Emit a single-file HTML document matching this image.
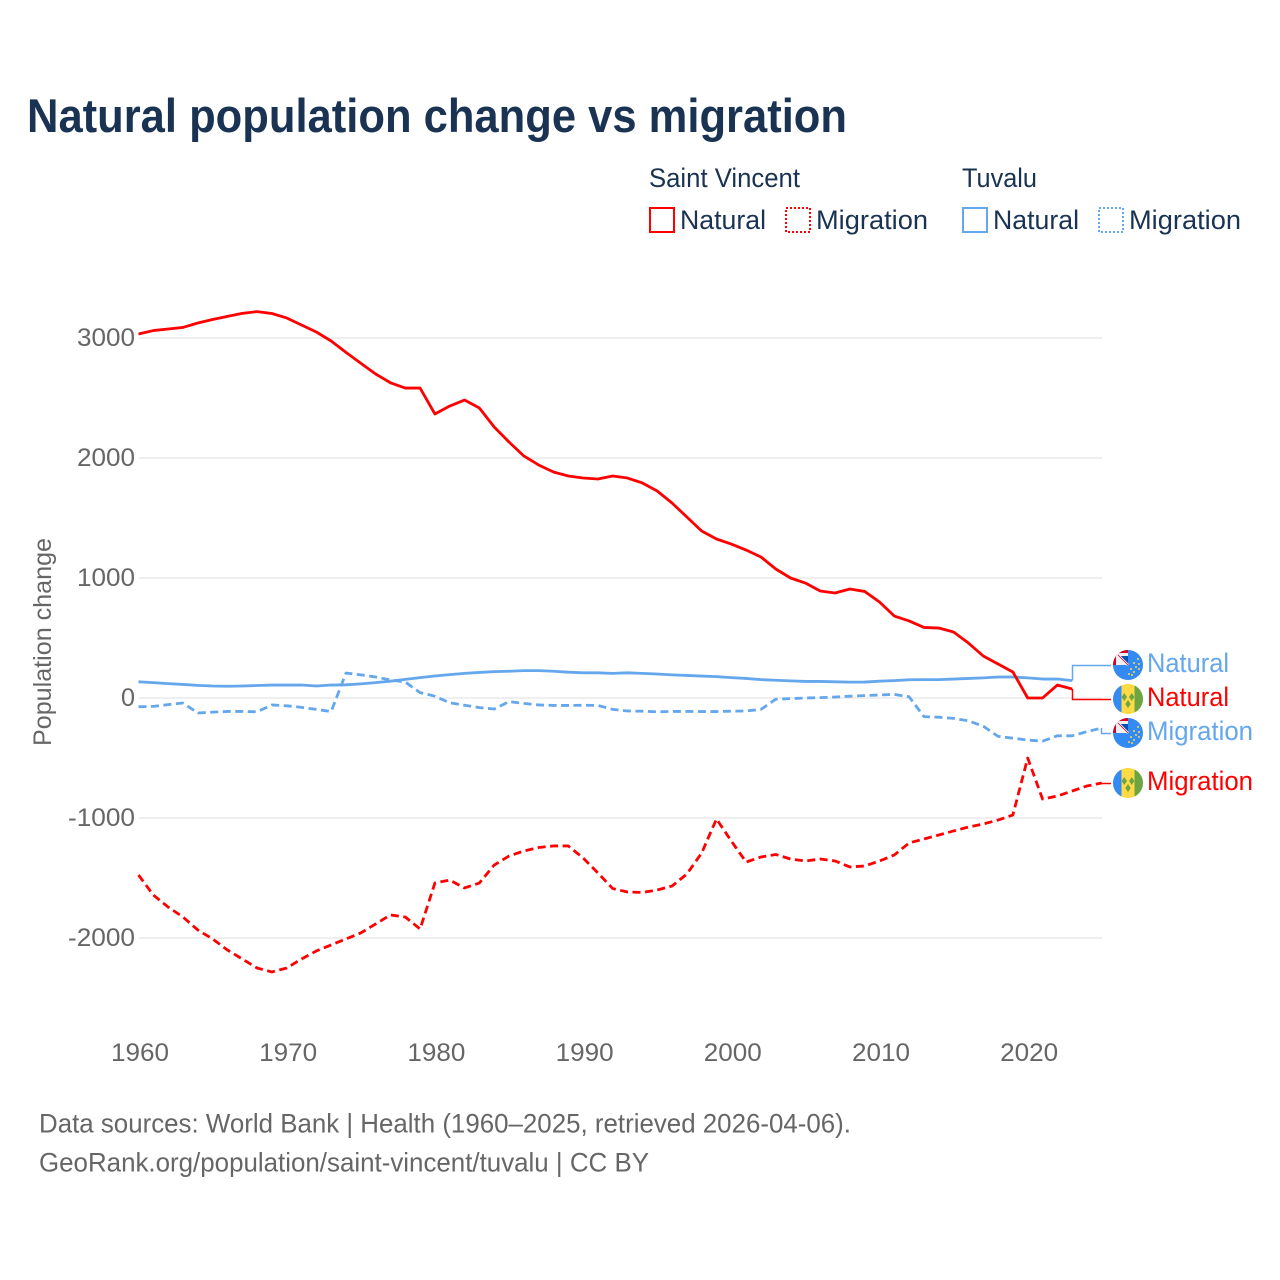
<!DOCTYPE html>
<html lang="en">
<head>
<meta charset="utf-8">
<title>Natural population change vs migration</title>
<style>
html,body{margin:0;padding:0;background:#fff;}
svg{display:block;font-family:"Liberation Sans",sans-serif;}
</style>
</head>
<body>
<svg id="chart" xmlns="http://www.w3.org/2000/svg" width="1280" height="1280" viewBox="0 0 1280 1280">
  <defs>
    <clipPath id="flag-clip"><circle cx="15" cy="15" r="15"/></clipPath>
    <symbol id="flag-tv" viewBox="0 0 30 30">
      <g clip-path="url(#flag-clip)">
        <rect width="30" height="30" fill="#338af3"/>
        <rect width="15" height="15" fill="#d80027"/>
        <path d="M3 3H15V15H3Z" fill="#f0f0f0"/>
        <path d="M7 6H15V15Z" fill="#0052b4"/>
        <path d="M5 5L15 15" stroke="#f0f0f0" stroke-width="2.500"/>
        <path d="M5 5L15 15" stroke="#d80027" stroke-width="0.800"/>
        <path d="M5 9L11 15H5Z" fill="#f0f0f0"/>
        <g fill="#ffda44">
          <circle cx="25" cy="9" r="1"/><circle cx="21" cy="13" r="1"/><circle cx="26" cy="14" r="1"/>
          <circle cx="23" cy="17" r="1"/><circle cx="18" cy="19" r="1"/><circle cx="26" cy="19" r="1"/>
          <circle cx="21" cy="22" r="1"/><circle cx="16" cy="24" r="1"/><circle cx="19" cy="25" r="1"/>
        </g>
      </g>
    </symbol>
    <symbol id="flag-vc" viewBox="0 0 30 30">
      <g clip-path="url(#flag-clip)">
        <rect width="30" height="30" fill="#ffda44"/>
        <rect width="8.500" height="30" fill="#338af3"/>
        <rect x="21.500" width="8.500" height="30" fill="#6da544"/>
        <g fill="#6da544">
          <path d="M11.300 9L14 13L11.300 17L8.600 13Z"/>
          <path d="M18.700 9L21.400 13L18.700 17L16 13Z"/>
          <path d="M15 16L17.700 20L15 24L12.300 20Z"/>
        </g>
      </g>
    </symbol>
  </defs>

  <text x="27" y="132" font-size="47" font-weight="700" fill="#1a3353" textLength="820" lengthAdjust="spacingAndGlyphs">Natural population change vs migration</text>

  <g font-size="27" fill="#1a3353">
    <text x="649" y="187" textLength="151" lengthAdjust="spacingAndGlyphs">Saint Vincent</text>
    <text x="962" y="187" textLength="75" lengthAdjust="spacingAndGlyphs">Tuvalu</text>
    <g>
      <rect x="650" y="208" width="24" height="24" fill="none" stroke="#ff0000" stroke-width="2"/>
      <text x="680" y="229" textLength="86" lengthAdjust="spacingAndGlyphs">Natural</text>
    </g>
    <g>
      <rect x="786" y="208" width="24" height="24" fill="none" stroke="#ff0000" stroke-width="2" stroke-dasharray="2 2"/>
      <text x="816" y="229" textLength="112" lengthAdjust="spacingAndGlyphs">Migration</text>
    </g>
    <g>
      <rect x="963" y="208" width="24" height="24" fill="none" stroke="#64a7ec" stroke-width="2"/>
      <text x="993" y="229" textLength="86" lengthAdjust="spacingAndGlyphs">Natural</text>
    </g>
    <g>
      <rect x="1099" y="208" width="24" height="24" fill="none" stroke="#64a7ec" stroke-width="2" stroke-dasharray="2 2"/>
      <text x="1129" y="229" textLength="112" lengthAdjust="spacingAndGlyphs">Migration</text>
    </g>
  </g>

  <g id="grid"></g>
  <g id="y-ticks"></g>
  <g id="x-ticks"></g>
  <text transform="translate(51 642) rotate(-90)" text-anchor="middle" font-size="25" fill="#666666" textLength="208" lengthAdjust="spacingAndGlyphs">Population change</text>
  <g id="series"></g>

  <g id="end-labels"></g>

  <g font-size="27" fill="#666666">
    <text x="39" y="1132.500" textLength="812" lengthAdjust="spacingAndGlyphs">Data sources: World Bank | Health (1960–2025, retrieved 2026-04-06).</text>
    <text x="39" y="1171.500" textLength="610" lengthAdjust="spacingAndGlyphs">GeoRank.org/population/saint-vincent/tuvalu | CC BY</text>
  </g>
</svg>

<script>
var yTickValues = [3000, 2000, 1000, 0, -1000, -2000];
var xTickYears = [1960, 1970, 1980, 1990, 2000, 2010, 2020];
var firstYear = 1960;

var svNatural = [3033,3062,3075,3088,3125,3154,3180,3205,3220,3204,3167,3108,3050,2975,2880,2790,2700,2627,2583,2583,2367,2433,2483,2417,2258,2133,2017,1942,1883,1850,1833,1825,1850,1833,1792,1725,1625,1508,1392,1325,1283,1233,1175,1075,1000,958,892,875,908,888,800,683,642,588,583,550,458,350,283,217,0,0,108,75];
var tvNatural = [135,128,120,113,105,100,98,100,104,108,108,108,100,108,110,118,128,140,155,170,183,195,205,213,220,223,228,228,223,215,210,210,205,210,205,200,193,188,183,178,170,163,153,148,143,138,138,135,132,133,140,145,152,153,153,158,163,168,175,175,168,158,158,145];
var tvMigration = [-73,-70,-55,-42,-125,-118,-112,-112,-115,-58,-65,-78,-95,-113,208,193,175,150,133,45,15,-40,-60,-80,-92,-30,-45,-58,-62,-62,-60,-62,-95,-108,-110,-115,-112,-112,-113,-113,-110,-108,-95,-10,-5,0,3,8,15,20,25,30,10,-155,-160,-170,-190,-235,-320,-335,-350,-360,-315,-315,-280,-250];
var svMigration = [-1475,-1642,-1742,-1825,-1933,-2008,-2100,-2175,-2250,-2283,-2250,-2175,-2108,-2058,-2008,-1958,-1883,-1808,-1825,-1925,-1542,-1517,-1583,-1542,-1392,-1317,-1275,-1246,-1233,-1233,-1333,-1458,-1588,-1617,-1620,-1600,-1567,-1467,-1292,-1008,-1192,-1367,-1325,-1304,-1342,-1358,-1342,-1358,-1408,-1400,-1358,-1308,-1208,-1175,-1142,-1108,-1075,-1050,-1017,-975,-500,-842,-817,-775,-733,-708];

var NS = 'http://www.w3.org/2000/svg';
var RED = '#ff0000';
var BLUE = '#64a7ec';
function xScale(year) { return 138.5 + (year - 1960) * 14.82; }
function yScale(value) { return 698 - value * 0.12; }
function make(tag, attrs, parent) {
  var el = document.createElementNS(NS, tag);
  for (var k in attrs) el.setAttribute(k, attrs[k]);
  parent.appendChild(el);
  return el;
}

var gridGroup = document.getElementById('grid');
var yGroup = document.getElementById('y-ticks');
yTickValues.forEach(function (v) {
  var line = make('line', {x1: 139, x2: 1102, y1: yScale(v), y2: yScale(v), stroke: '#eaeaea', 'stroke-width': 1.5}, gridGroup);
  
  
  var label = String(v);
  var t = make('text', {x: 135, y: yScale(v) + 8, 'text-anchor': 'end', 'font-size': 25, fill: '#666666', textLength: label === '0' ? 14 : (label.length === 5 ? 67 : 58), lengthAdjust: 'spacingAndGlyphs'}, yGroup);
  t.textContent = label;
  
  
});

var xGroup = document.getElementById('x-ticks');
xTickYears.forEach(function (yr) {
  var t = make('text', {x: xScale(yr) + 1.5, y: 1061, 'text-anchor': 'middle', 'font-size': 25, fill: '#666666', textLength: 58, lengthAdjust: 'spacingAndGlyphs'}, xGroup);
  t.textContent = String(yr);
  
  
});

function pathFor(values) {
  return values.map(function (v, i) {
    return (i ? 'L' : 'M') + xScale(firstYear + i).toFixed(2) + ' ' + yScale(v).toFixed(2);
  }).join(' ');
}

var seriesGroup = document.getElementById('series');
var labelGroup = document.getElementById('end-labels');

function drawSeries(values, color, dashed, flagY, flagId, text) {
  var line = make('path', {d: pathFor(values), fill: 'none', stroke: color, 'stroke-width': 2.8, 'stroke-linejoin': 'round'}, seriesGroup);
  if (dashed) line.setAttribute('stroke-dasharray', '8 4.5');
  
  
  var lastX = Math.floor(xScale(firstYear + values.length - 1)) + 0.5;
  var lastY = yScale(values[values.length - 1]);
  var conn = make('path', {d: 'M' + lastX + ' ' + lastY.toFixed(2) + 'V' + (flagY + 0.5) + 'H1111', fill: 'none', stroke: color, 'stroke-width': 1.5}, seriesGroup);
  
  
  var flag = make('use', {href: '#' + flagId, x: 1113, y: flagY - 15, width: 30, height: 30}, labelGroup);
  
  
  var label = make('text', {x: 1147, y: flagY + 7, 'font-size': 27, fill: color, textLength: text === 'Natural' ? 82 : 106, lengthAdjust: 'spacingAndGlyphs'}, labelGroup);
  label.textContent = text;
  
  
}

drawSeries(tvNatural, BLUE, false, 665, 'flag-tv', 'Natural');
drawSeries(svNatural, RED, false, 699, 'flag-vc', 'Natural');
drawSeries(tvMigration, BLUE, true, 733, 'flag-tv', 'Migration');
drawSeries(svMigration, RED, true, 783, 'flag-vc', 'Migration');
</script>
</body>
</html>
